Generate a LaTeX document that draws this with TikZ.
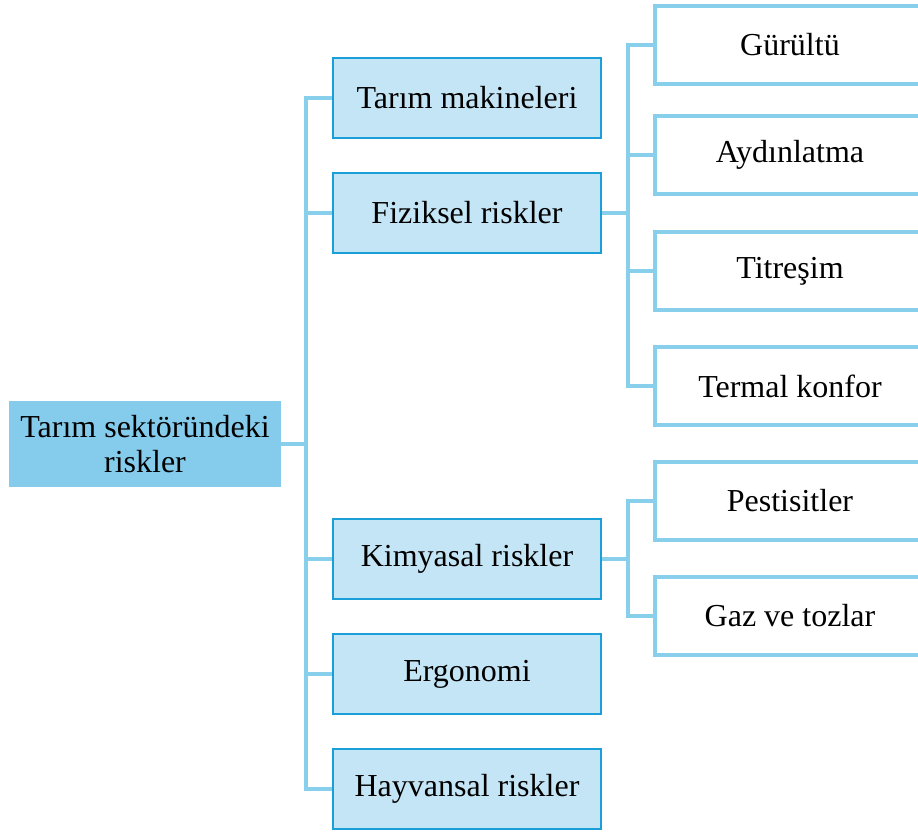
\documentclass[tikz,border=0pt]{standalone}
\usepackage{fontspec}
\setmainfont{Liberation Serif}
\usetikzlibrary{backgrounds}
\definecolor{rootfill}{HTML}{85CCEC}
\definecolor{midfill}{HTML}{C4E5F5}
\definecolor{midborder}{HTML}{1A9FD9}
\definecolor{linecol}{HTML}{88CFEC}
\begin{document}
\begin{tikzpicture}[x=1pt,y=-1pt,
  every node/.style={font=\fontsize{32}{35}\selectfont, inner sep=0pt},
  rootbox/.style={fill=rootfill, minimum width=272pt, minimum height=86pt, align=center},
  midbox/.style={fill=midfill, draw=midborder, line width=2pt, minimum width=268pt, minimum height=80pt},
  leafbox/.style={fill=white, draw=linecol, line width=3.5pt, minimum width=270pt, minimum height=78pt},
  conn/.style={draw=linecol, line width=4pt}]
\useasboundingbox (0,0) rectangle (918,834);
\node[rootbox] (root) at (145,444) {Tarım sektöründeki\\riskler};
\node[midbox] (m1) at (467,98) {Tarım makineleri};
\node[midbox] (m2) at (467,213) {Fiziksel riskler};
\node[midbox] (m3) at (467,559) {Kimyasal riskler};
\node[midbox] (m4) at (467,674) {Ergonomi};
\node[midbox] (m5) at (467,789) {Hayvansal riskler};
\node[leafbox] (l1) at (790,45) {Gürültü};
\node[leafbox] (l2) at (790,155) {Aydınlatma};
\node[leafbox] (l3) at (790,271) {Titreşim};
\node[leafbox] (l4) at (790,386) {Termal konfor};
\node[leafbox] (l5) at (790,501) {Pestisitler};
\node[leafbox] (l6) at (790,616) {Gaz ve tozlar};
\coordinate (ta) at (306,0);
\coordinate (tb) at (628,0);
\begin{scope}[on background layer]
\draw[conn] (m1.west) -| (ta |- m5.west) -- (m5.west);
\foreach \m in {m2,m3,m4} \draw[conn] (\m.west) -- (ta |- \m.west);
\draw[conn] (root.east) -- (ta |- root.east);
\draw[conn] (l1.west) -| (tb |- l4.west) -- (l4.west);
\foreach \m in {l2,l3} \draw[conn] (\m.west) -- (tb |- \m.west);
\draw[conn] (m2.east) -- (tb |- m2.east);
\draw[conn] (l5.west) -| (tb |- l6.west) -- (l6.west);
\draw[conn] (m3.east) -- (tb |- m3.east);
\end{scope}
\end{tikzpicture}
\end{document}
